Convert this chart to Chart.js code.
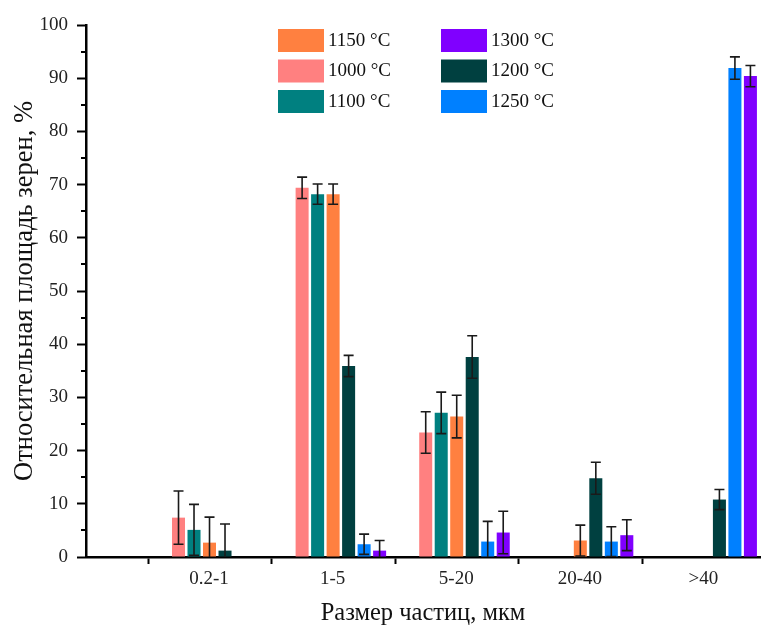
<!DOCTYPE html>
<html>
<head>
<meta charset="utf-8">
<title>Размер частиц</title>
<script src="https://cdn.jsdelivr.net/npm/chart.js@4.4.0/dist/chart.umd.min.js"></script>
<style>
    html, body { margin: 0; padding: 0; background: #fff; }
    #wrap { width: 761px; height: 628px; }
</style>
</head>
<body>
<div id="wrap"><canvas id="grains" width="761" height="628"></canvas></div>
<script>
    "use strict";

    // particle size classes, um
    var sizeClasses = ["0.2-1", "1-5", "5-20", "20-40", ">40"];

    // sintering temperatures, in bar order inside a group
    var temps = ["1000", "1100", "1150", "1200", "1250", "1300"];
    var colors = ["#FF8080", "#008080", "#FF8040", "#004040", "#0080FF", "#8000FF"];

    // relative grain area, % (null - no grains of that size)
    var area1000 = [7.4, 69.4, 23.4, null, null];
    var area1100 = [5.1, 68.2, 27.1, null, null];
    var area1150 = [2.7, 68.2, 26.4, 3.1, null];
    var area1200 = [1.2, 35.9, 37.6, 14.8, 10.8];
    var area1250 = [null, 2.4, 2.9, 2.9, 91.9];
    var area1300 = [null, 1.2, 4.6, 4.1, 90.4];

    // standard deviation, %
    var err1000 = [5.0, 2.0, 3.9, null, null];
    var err1100 = [4.8, 1.9, 3.9, null, null];
    var err1150 = [4.8, 1.9, 4.0, 2.9, null];
    var err1200 = [5.0, 2.0, 4.0, 3.0, 1.9];
    var err1250 = [null, 1.9, 3.8, 2.8, 2.1];
    var err1300 = [null, 1.9, 4.0, 2.9, 2.0];

    var yRange = [0, 100];
    var yStep = 10;

    // legend goes column by column
    var legendOrder = ["1150", "1000", "1100", "1300", "1200", "1250"];

    var areas = [area1000, area1100, area1150, area1200, area1250, area1300];
    var errs = [err1000, err1100, err1150, err1200, err1250, err1300];

    var serif = "'Liberation Serif', 'Times New Roman', serif";
    Chart.defaults.font.family = serif;

    var datasets = temps.map(function(t, i) {
        return {
            label: t + " °C",
            data: areas[i].map(function(v, j) {
                return { x: j + 1, y: v };
            }),
            errors: errs[i],
            backgroundColor: colors[i],
            borderWidth: 0
        };
    });

    // whiskers with caps, clipped to the plot area
    var errorBars = {
        id: "errorBars",
        afterDatasetsDraw: function(chart) {
            var ctx = chart.ctx;
            var yScale = chart.scales.y;
            var area = chart.chartArea;
            ctx.save();
            ctx.beginPath();
            ctx.rect(area.left, area.top - 20, area.right - area.left, area.bottom - area.top + 20);
            ctx.clip();
            ctx.strokeStyle = "#1a1a1a";
            ctx.lineWidth = 1.6;
            chart.data.datasets.forEach(function(ds, i) {
                chart.getDatasetMeta(i).data.forEach(function(bar, j) {
                    var v = ds.data[j].y;
                    var e = ds.errors[j];
                    if (v == null || e == null) {
                        return;
                    }
                    var top = yScale.getPixelForValue(v + e);
                    var bot = yScale.getPixelForValue(v - e);
                    ctx.beginPath();
                    ctx.moveTo(bar.x, top);
                    ctx.lineTo(bar.x, bot);
                    ctx.moveTo(bar.x - 5, top);
                    ctx.lineTo(bar.x + 5, top);
                    ctx.moveTo(bar.x - 5, bot);
                    ctx.lineTo(bar.x + 5, bot);
                    ctx.stroke();
                });
            });
            ctx.restore();
        }
    };

    // short ticks halfway between the labelled ones
    var minorTicks = {
        id: "minorTicks",
        afterDraw: function(chart) {
            var ctx = chart.ctx;
            var yScale = chart.scales.y;
            var x0 = chart.chartArea.left;
            ctx.save();
            ctx.strokeStyle = "#000";
            ctx.lineWidth = 2;
            ctx.beginPath();
            for (var v = yRange[0] + yStep / 2; v < yRange[1]; v += yStep) {
                var py = Math.round(yScale.getPixelForValue(v));
                ctx.moveTo(x0 - 5, py);
                ctx.lineTo(x0, py);
            }
            ctx.stroke();
            ctx.restore();
        }
    };

    // two-column box legend inside the plot
    var boxLegend = {
        id: "boxLegend",
        afterDraw: function(chart) {
            var ctx = chart.ctx;
            ctx.save();
            ctx.font = "19px " + serif;
            ctx.textBaseline = "middle";
            ctx.textAlign = "left";
            legendOrder.forEach(function(t, k) {
                var i = temps.indexOf(t);
                var col = Math.floor(k / 3);
                var row = k % 3;
                var bx = 278 + col * 163;
                var by = 29 + row * 30.5;
                ctx.fillStyle = colors[i];
                ctx.fillRect(bx, by, 46, 23);
                ctx.fillStyle = "#111";
                ctx.fillText(chart.data.datasets[i].label, bx + 50, by + 12);
            });
            ctx.restore();
        }
    };

    new Chart(document.getElementById("grains"), {
        type: "bar",
        data: { datasets: datasets },
        plugins: [errorBars, minorTicks, boxLegend],
        options: {
            responsive: false,
            animation: false,
            devicePixelRatio: 1,
            categoryPercentage: 0.7524,
            barPercentage: 0.84,
            layout: { padding: { top: 25, right: 1, bottom: 0, left: 0 } },
            plugins: {
                legend: { display: false },
                tooltip: { enabled: false }
            },
            scales: {
                x: {
                    type: "linear",
                    min: -0.062,
                    max: 5.391,
                    offset: false,
                    z: 1,
                    afterBuildTicks: function(scale) {
                        // ticks sit on the borders between classes
                        scale.ticks = sizeClasses.map(function(s, i) {
                            return { value: i + 0.44 };
                        });
                    },
                    afterFit: function(scale) {
                        scale.height = 71;
                    },
                    ticks: {
                        callback: function(v, i) {
                            return sizeClasses[i];
                        },
                        labelOffset: 61,
                        autoSkip: false,
                        maxRotation: 0,
                        padding: 4,
                        color: "#222",
                        font: { size: 19 }
                    },
                    grid: {
                        offset: false,
                        drawOnChartArea: false,
                        drawTicks: true,
                        tickLength: 7,
                        tickColor: "#000",
                        tickWidth: 2
                    },
                    border: { color: "#000", width: 2.5 },
                    title: {
                        display: true,
                        text: "Размер частиц, мкм",
                        color: "#111",
                        font: { size: 24.5 },
                        padding: { top: 0, bottom: 0 }
                    }
                },
                y: {
                    min: yRange[0],
                    max: yRange[1],
                    z: 1,
                    afterFit: function(scale) {
                        scale.width = 86;
                    },
                    ticks: {
                        stepSize: yStep,
                        padding: 9,
                        color: "#222",
                        font: { size: 19 }
                    },
                    grid: {
                        drawOnChartArea: false,
                        drawTicks: true,
                        tickLength: 9,
                        tickColor: "#000",
                        tickWidth: 2
                    },
                    border: { color: "#000", width: 2.5 },
                    title: {
                        display: true,
                        text: "Относительная площадь зерен, %",
                        color: "#111",
                        font: { size: 26.5 },
                        padding: { top: 9, bottom: 0 }
                    }
                }
            }
        }
    });
</script>
</body>
</html>
